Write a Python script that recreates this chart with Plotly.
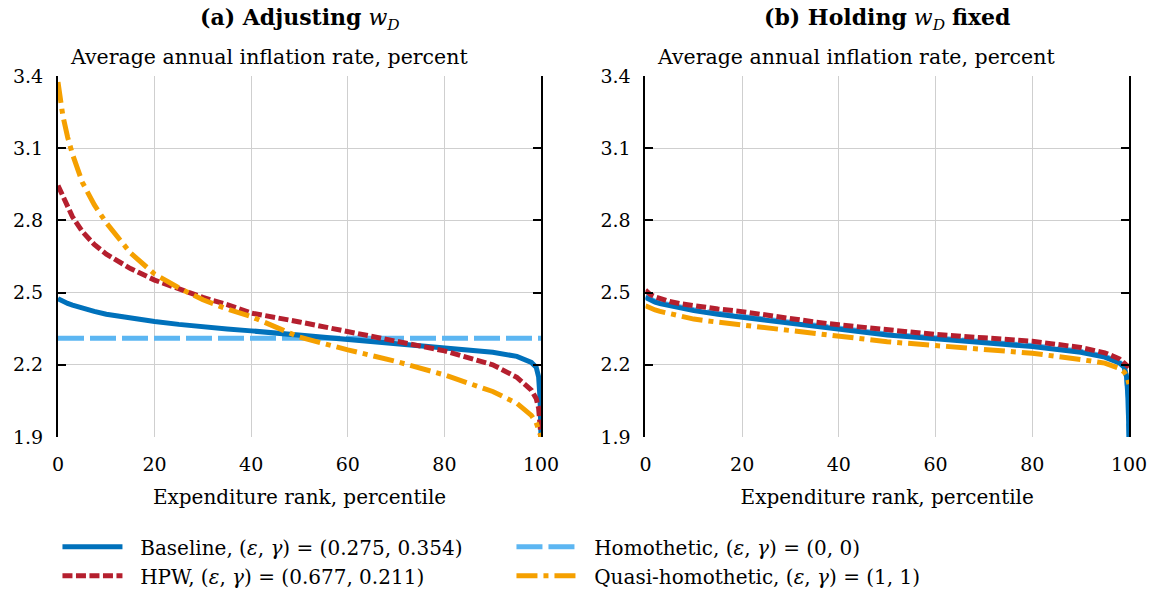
import plotly.graph_objects as go

# ---------------- data ----------------
RANK = [0, 1, 2, 3, 5, 7.5, 10, 15, 20, 25, 30, 35, 40, 50, 60, 70, 80, 90, 95, 98, 99, 99.5, 99.8, 100]

# Panel (a): adjusting w_D
A_BASELINE = [2.475, 2.463, 2.455, 2.448, 2.435, 2.422, 2.41, 2.393, 2.38, 2.368, 2.357, 2.349,
              2.341, 2.324, 2.306, 2.29, 2.273, 2.252, 2.235, 2.21, 2.19, 2.15, 2.06, 1.9]
A_HOMOTHETIC = [2.31] * 24
A_HPW = [2.945, 2.90, 2.855, 2.815, 2.755, 2.70, 2.66, 2.60, 2.552, 2.515, 2.48, 2.45,
         2.415, 2.378, 2.338, 2.30, 2.258, 2.20, 2.148, 2.095, 2.06, 2.02, 1.97, 1.9]
A_QUASI = [3.375, 3.235, 3.145, 3.075, 2.96, 2.865, 2.79, 2.665, 2.577, 2.52, 2.47, 2.432,
           2.40, 2.315, 2.262, 2.214, 2.158, 2.089, 2.04, 1.99, 1.96, 1.935, 1.915, 1.9]

# Panel (b): holding w_D fixed
B_BASELINE = [2.48, 2.468, 2.46, 2.454, 2.445, 2.434, 2.425, 2.41, 2.398, 2.384, 2.371, 2.358,
              2.345, 2.324, 2.308, 2.293, 2.276, 2.252, 2.232, 2.208, 2.19, 2.15, 2.06, 1.9]
B_HOMOTHETIC = [2.484, 2.472, 2.464, 2.458, 2.449, 2.438, 2.429, 2.414, 2.402, 2.388, 2.375, 2.362,
                2.349, 2.328, 2.312, 2.297, 2.28, 2.256, 2.236, 2.212, 2.194, 2.154, 2.065, 1.9]
B_HPW = [2.51, 2.492, 2.482, 2.475, 2.463, 2.453, 2.445, 2.432, 2.421, 2.405, 2.39, 2.378,
         2.366, 2.345, 2.326, 2.312, 2.298, 2.272, 2.25, 2.225, 2.21, 2.2, 2.195, 2.19]
B_QUASI = [2.445, 2.435, 2.428, 2.422, 2.414, 2.40, 2.39, 2.377, 2.366, 2.353, 2.34, 2.328,
           2.317, 2.296, 2.28, 2.264, 2.248, 2.222, 2.207, 2.185, 2.17, 2.155, 2.14, 2.12]

X_TICKS = [0, 20, 40, 60, 80, 100]
Y_TICKS = [1.9, 2.2, 2.5, 2.8, 3.1, 3.4]

GAP = "\u00a0\u00a0"
NAMES = {
    "base": GAP + "Baseline, (<i>ε</i>, <i>γ</i>) = (0.275, 0.354)",
    "homo": GAP + "Homothetic, (<i>ε</i>, <i>γ</i>) = (0, 0)",
    "hpw": GAP + "HPW, (<i>ε</i>, <i>γ</i>) = (0.677, 0.211)",
    "quasi": GAP + "Quasi-homothetic, (<i>ε</i>, <i>γ</i>) = (1, 1)",
}
PANEL_TITLES = [
    "<b>(a) Adjusting</b> <i>w</i><sub><i>D</i></sub>",
    "<b>(b) Holding</b> <i>w</i><sub><i>D</i></sub> <b>fixed</b>",
]

# ---------------- styles ----------------
FONT = "'DejaVu Serif', serif"
STYLE = {
    "homo": dict(color="#5cb6f2", width=5, dash="26px,6px"),
    "base": dict(color="#0071bb", width=5, dash="solid"),
    "hpw": dict(color="#b51f2e", width=5, dash="10px,3.5px"),
    "quasi": dict(color="#f5a000", width=5, dash="21px,6px,5px,6px"),
}
RANKS = {"base": 1, "homo": 2, "hpw": 3, "quasi": 4}

fig = go.Figure()
panels = [
    ("x", "y", {"homo": A_HOMOTHETIC, "base": A_BASELINE, "hpw": A_HPW, "quasi": A_QUASI}, True),
    ("x2", "y2", {"homo": B_HOMOTHETIC, "base": B_BASELINE, "hpw": B_HPW, "quasi": B_QUASI}, False),
]
for xa, ya, series, show in panels:
    for key in ["homo", "base", "hpw", "quasi"]:
        fig.add_trace(go.Scatter(
            x=RANK, y=series[key], mode="lines", name=NAMES[key],
            line=STYLE[key], xaxis=xa, yaxis=ya, showlegend=show,
            legendrank=RANKS[key], hoverinfo="skip",
        ))

axis_x = dict(range=[0, 100], tickvals=X_TICKS, showgrid=True, gridcolor="#cfcfcf", gridwidth=1,
              showline=False, zeroline=False, ticks="", ticklabelstandoff=14, automargin=False,
              tickfont=dict(family=FONT, size=19, color="black"),
              title=dict(text="Expenditure rank, percentile", standoff=15,
                         font=dict(family=FONT, size=20, color="black")))
axis_y = dict(range=[1.9, 3.4], tickvals=Y_TICKS, tickformat=".1f", showgrid=True,
              gridcolor="#cfcfcf", gridwidth=1, zeroline=False, automargin=False,
              showline=True, linecolor="black", linewidth=2, mirror="ticks",
              ticks="inside", ticklen=8, tickwidth=2, tickcolor="black",
              ticklabelstandoff=9, tickfont=dict(family=FONT, size=19, color="black"))

fig.update_layout(
    width=1155, height=601,
    margin=dict(l=57.5, r=25.5, t=76, b=164, autoexpand=False),
    paper_bgcolor="white", plot_bgcolor="white",
    font=dict(family=FONT, size=20, color="black"),
    xaxis=dict(domain=[0, 0.451], **axis_x),
    xaxis2=dict(domain=[0.5485, 1.0], anchor="y2", **axis_x),
    yaxis=dict(domain=[0, 1], anchor="x", **axis_y),
    yaxis2=dict(domain=[0, 1], anchor="x2", **axis_y),
    legend=dict(orientation="h", x=-0.0005, xanchor="left", y=-0.25, yanchor="top",
                xref="paper", yref="paper",
                entrywidth=379, entrywidthmode="pixels", itemwidth=60,
                font=dict(family=FONT, size=20, color="black"),
                bgcolor="rgba(0,0,0,0)", traceorder="normal"),
)

for i, (title, xref) in enumerate(zip(PANEL_TITLES, ["x domain", "x2 domain"])):
    fig.add_annotation(text=title, xref=xref, yref="paper", x=0.5, y=1, yshift=57,
                       xanchor="center", yanchor="middle", showarrow=False,
                       font=dict(family=FONT, size=22, color="black"))
    fig.add_annotation(text="Average annual inflation rate, percent", xref=xref, yref="paper",
                       x=0, y=1, xshift=10, yshift=19, xanchor="left", yanchor="middle",
                       showarrow=False, font=dict(family=FONT, size=20.5, color="black"))

fig.write_html("out.html", config={"displayModeBar": False},
               post_script="document.body.style.margin='0px';")
